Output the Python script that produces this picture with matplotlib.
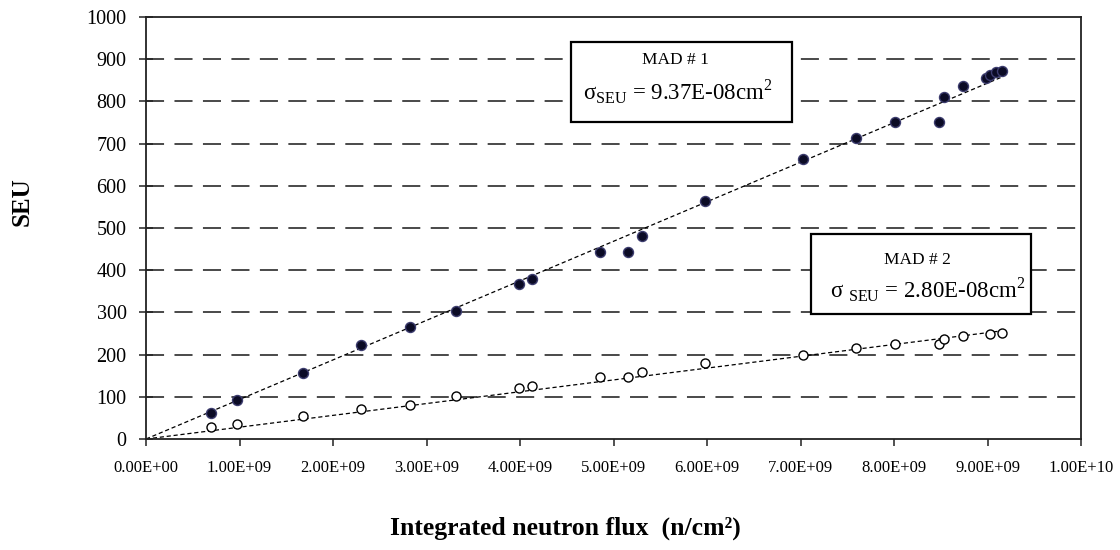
import matplotlib
matplotlib.use('Agg')
import matplotlib.pyplot as plt
from matplotlib.patches import Rectangle
from matplotlib.ticker import FuncFormatter, MultipleLocator

plt.rcParams['font.family'] = ['Liberation Serif', 'DejaVu Serif']
plt.rcParams['mathtext.fontset'] = 'custom'
plt.rcParams['mathtext.rm'] = 'Liberation Serif'
plt.rcParams['lines.scale_dashes'] = False

# integrated neutron flux (n/cm2) and SEU counts for the two devices
flux = [0.70e9, 0.97e9, 1.68e9, 2.30e9, 2.82e9, 3.32e9, 3.99e9, 4.13e9,
        4.86e9, 5.16e9, 5.31e9, 5.98e9, 7.03e9, 7.59e9, 8.01e9, 8.48e9,
        8.53e9, 8.74e9, 8.98e9, 9.03e9, 9.09e9, 9.15e9]
seu_mad1 = [61, 92, 156, 223, 266, 303, 367, 379, 444, 444, 481, 563,
            664, 714, 751, 751, 811, 836, 855, 862, 869, 873]

flux2 = [0.70e9, 0.97e9, 1.68e9, 2.30e9, 2.82e9, 3.32e9, 3.99e9, 4.13e9,
         4.86e9, 5.16e9, 5.31e9, 5.98e9, 7.03e9, 7.59e9, 8.01e9, 8.48e9,
         8.53e9, 8.74e9, 9.03e9, 9.15e9]
seu_mad2 = [28, 36, 54, 70, 81, 102, 121, 126, 146, 146, 158, 179,
            199, 215, 226, 226, 238, 243, 250, 252]

# cross sections from the linear fits (cm2)
sigma_mad1 = 9.37e-08
sigma_mad2 = 2.80e-08

fig = plt.figure(figsize=(11.2, 5.5), dpi=100)
ax = fig.add_axes([146 / 1120, 1 - 439 / 550, 935 / 1120, 422 / 550])

ax.set_xlim(0, 1e10)
ax.set_ylim(0, 1000)
ax.xaxis.set_major_locator(MultipleLocator(1e9))
ax.yaxis.set_major_locator(MultipleLocator(100))
ax.xaxis.set_major_formatter(FuncFormatter(lambda v, p: '{:.2E}'.format(v)))
ax.yaxis.set_major_formatter(FuncFormatter(lambda v, p: '%d' % v))

# dashed horizontal grid
for yv in range(100, 1000, 100):
    ax.axhline(yv, color='#3a3a3a', lw=1.3, ls=(0, (13, 7.5)), zorder=1)

# fit lines through the origin
xmax1 = max(flux)
xmax2 = max(flux2)
ax.plot([0, xmax1], [0, sigma_mad1 * xmax1], color='black', lw=0.9,
        ls=(0, (3, 2)), zorder=2)
ax.plot([0, xmax2], [0, sigma_mad2 * xmax2], color='black', lw=0.9,
        ls=(0, (3, 2)), zorder=2)

ax.plot(flux, seu_mad1, 'o', ms=7.2, mfc='#0b0b25', mec='#3c3c6e', mew=1,
        zorder=4, clip_on=False)
ax.plot(flux2, seu_mad2, 'o', ms=6.5, mfc='white', mec='black', mew=1,
        zorder=4, clip_on=False)

# annotation boxes
box1 = Rectangle((0.4545, 0.751), 0.2365, 0.19, transform=ax.transAxes,
                 fc='white', ec='black', lw=1.6, zorder=3)
box2 = Rectangle((0.711, 0.296), 0.2355, 0.19, transform=ax.transAxes,
                 fc='white', ec='black', lw=1.6, zorder=3)
ax.add_patch(box1)
ax.add_patch(box2)

ax.text(0.566, 0.898, 'MAD # 1', transform=ax.transAxes, ha='center',
        va='center', fontsize=12.5, zorder=5)
ax.text(0.5684, 0.822, 'σ$_{\\mathrm{SEU}}$ = 9.37E-08cm$^{2}$',
        transform=ax.transAxes, ha='center', va='center', fontsize=16.5,
        zorder=5)
ax.text(0.8246, 0.424, 'MAD # 2', transform=ax.transAxes, ha='center',
        va='center', fontsize=12.5, zorder=5)
ax.text(0.836, 0.353, 'σ $_{\\mathrm{SEU}}$ = 2.80E-08cm$^{2}$',
        transform=ax.transAxes, ha='center', va='center', fontsize=16.5,
        zorder=5)

for sp in ax.spines.values():
    sp.set_color('#222222')
    sp.set_linewidth(1.3)

ax.tick_params(axis='y', direction='inout', length=10, width=1.1,
               labelsize=14.5, pad=9, color='#222222')
ax.tick_params(axis='x', direction='out', length=5, width=1.1,
               labelsize=12, pad=10, color='#222222')

fig.text(22 / 1120, 1 - 202 / 550, 'SEU', rotation=90, ha='center',
         va='center', fontsize=18, fontweight='bold')
fig.text(565 / 1120, 1 - 528 / 550, 'Integrated neutron flux  (n/cm²)',
         ha='center', va='center', fontsize=18.5, fontweight='bold')

fig.savefig('out.png', dpi=100)
